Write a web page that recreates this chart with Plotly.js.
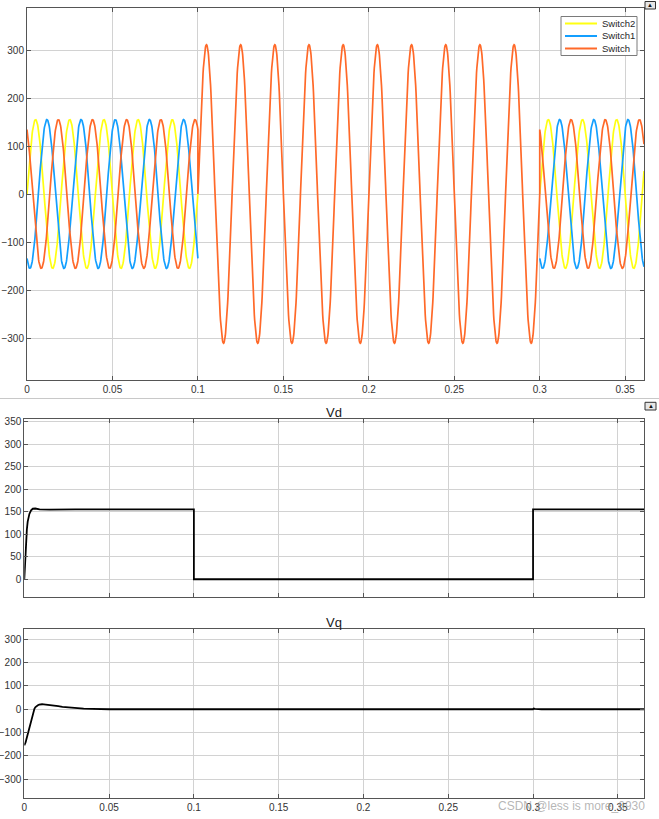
<!DOCTYPE html>
<html>
<head>
<meta charset="utf-8">
<script src="https://cdn.plot.ly/plotly-3.0.1.min.js"></script>
<style>
html,body{margin:0;padding:0;background:#fff;}
#chart{width:659px;height:819px;}
</style>
</head>
<body>
<div id="chart"></div>
<script>
// ---------------- data ----------------
// Top scope: three 50 Hz signals; three-phase (155 V peak) outside the switch window,
// single 311 V peak signal on "Switch" inside it.
const seriesNames = ['Switch2', 'Switch1', 'Switch'];
const seriesPhaseDeg = [0, -120, 120];      // phase of each signal in the three-phase windows
const threePhaseAmp = 155;                   // peak value
const singlePhaseAmp = 311;                  // peak value in 0.1 .. 0.3 s
const lineFreqHz = 50;                       // 10 periods per 0.2 s
const switchWindow = [0.1, 0.3];             // s
const simEnd = 0.361;                        // s, last sample

// Vd (d-axis) read points
const vdTime  = [0, 0.0005, 0.001, 0.0015, 0.002, 0.003, 0.004, 0.005, 0.0065, 0.009, 0.015, 0.03, 0.1, 0.1, 0.3, 0.3, 0.3656];
const vdValue = [0, 45, 85, 110, 128, 145, 153, 156.5, 157, 155, 154.5, 155, 155, 0, 0, 155, 155];

// Vq (q-axis) read points
const vqTime  = [0, 0.0004, 0.0008, 0.0012, 0.0016, 0.002, 0.0024, 0.0028, 0.0032, 0.0036, 0.004, 0.0044, 0.0048, 0.0052, 0.0056, 0.006, 0.0066, 0.0073, 0.008, 0.0088, 0.0095, 0.0105, 0.0115, 0.0125, 0.014, 0.016, 0.018, 0.02, 0.0225, 0.025, 0.0275, 0.03, 0.0325, 0.035, 0.04, 0.045, 0.05, 0.3, 0.3004, 0.3012, 0.302, 0.305, 0.3656];
const vqValue = [-155, -150, -141, -130, -118, -106, -95, -82, -70, -57, -45, -33, -22, -12, -4, 3, 9, 14, 17, 19.5, 21, 21.5, 21.3, 20.7, 19.5, 17.5, 15.2, 13, 10.5, 8.3, 6.3, 4.7, 3.4, 2.4, 1.2, 0.5, 0, 0, 3, 2, 1, 0, 0];

// axis ticks
const xTickVals = [0, 0.05, 0.1, 0.15, 0.2, 0.25, 0.3, 0.35];
const xTickText = ['0', '0.05', '0.1', '0.15', '0.2', '0.25', '0.3', '0.35'];
const topYTicks = [-300, -200, -100, 0, 100, 200, 300];
const vdYTicks = [0, 50, 100, 150, 200, 250, 300, 350];
const vqYTicks = [-300, -200, -100, 0, 100, 200, 300];
const panelTitles = ['Vd', 'Vq'];
const watermark = 'CSDN @less is more_0930';

// ---------------- build the scope traces ----------------
const W = 659, H = 819;
const dt = 0.0002;
const omega = 2 * Math.PI * lineFreqHz;

function buildSignal(k) {
  const t = [], v = [];
  const ph = seriesPhaseDeg[k] * Math.PI / 180;
  const n1 = Math.round(switchWindow[0] / dt);
  for (let i = 0; i <= n1; i++) { const tt = i * dt; t.push(tt); v.push(threePhaseAmp * Math.sin(omega * tt + ph)); }
  const n2 = Math.round(switchWindow[1] / dt);
  if (k === 2) {
    for (let i = n1; i <= n2; i++) { const tt = i * dt; t.push(tt); v.push(singlePhaseAmp * Math.sin(omega * tt)); }
  } else {
    t.push((switchWindow[0] + switchWindow[1]) / 2); v.push(null);
  }
  const n3 = Math.round(simEnd / dt);
  for (let i = n2; i <= n3; i++) { const tt = i * dt; t.push(tt); v.push(threePhaseAmp * Math.sin(omega * tt + ph)); }
  return {t, v};
}

const scopeColors = ['#FFFF11', '#139FFF', '#FF6929'];
const traces = [];
for (let k = 0; k < 3; k++) {
  const s = buildSignal(k);
  traces.push({
    x: s.t, y: s.v, type: 'scatter', mode: 'lines', name: seriesNames[k],
    xaxis: 'x', yaxis: 'y', connectgaps: false, showlegend: false,
    line: {color: scopeColors[k], width: 1.7}, hoverinfo: 'skip'
  });
}
traces.push({x: vdTime, y: vdValue, type: 'scatter', mode: 'lines', name: 'Vd', showlegend: false,
  xaxis: 'x2', yaxis: 'y2', line: {color: '#000000', width: 1.8}});
traces.push({x: vqTime, y: vqValue, type: 'scatter', mode: 'lines', name: 'Vq', showlegend: false,
  xaxis: 'x3', yaxis: 'y3', line: {color: '#000000', width: 1.8}});

// ---------------- layout ----------------
const px = x => x / W;
const py = y => (H - y) / H;
const fam = 'Liberation Sans, Arial, Helvetica, sans-serif';
const tickFont = {family: fam, size: 10, color: '#333333'};

function axisBase(extra) {
  return Object.assign({
    showline: true, linecolor: '#555555', linewidth: 1, mirror: 'ticks',
    ticks: 'inside', ticklen: 4, tickcolor: '#555555', tickwidth: 1,
    showgrid: true, gridcolor: '#d2d2d2', gridwidth: 1, zeroline: false,
    fixedrange: true
  }, extra);
}

// hand-made scope legend (box, line samples, labels)
const legendRows = [23.5, 36, 48.5];
const legendShapes = [
  {type: 'rect', xref: 'paper', yref: 'paper', x0: px(561), x1: px(637), y0: py(55.5), y1: py(16.5),
    line: {color: '#7a7a7a', width: 1}, fillcolor: '#ffffff', layer: 'above'}
];
const legendAnn = [];
for (let k = 0; k < 3; k++) {
  legendShapes.push({type: 'line', xref: 'paper', yref: 'paper', x0: px(565), x1: px(597),
    y0: py(legendRows[k]), y1: py(legendRows[k]), line: {color: scopeColors[k], width: 2}, layer: 'above'});
  legendAnn.push({text: seriesNames[k], xref: 'paper', yref: 'paper', x: px(600), y: py(legendRows[k]),
    xanchor: 'left', yanchor: 'middle', showarrow: false, font: {family: fam, size: 9.5, color: '#262626'}});
}

const layout = {
  width: W, height: H,
  margin: {l: 0, r: 0, t: 0, b: 0},
  paper_bgcolor: '#ffffff', plot_bgcolor: '#ffffff',
  showlegend: false,
  xaxis: axisBase({domain: [px(27), px(644)], range: [0, simEnd], anchor: 'y',
    tickvals: xTickVals, ticktext: xTickText, tickfont: tickFont}),
  yaxis: axisBase({domain: [py(380), py(8)], range: [-387.5, 387.5], anchor: 'x',
    tickvals: topYTicks, tickfont: tickFont}),
  xaxis2: axisBase({domain: [px(24.3), px(644.3)], range: [0, 0.3656], anchor: 'y2',
    tickvals: xTickVals, showticklabels: false}),
  yaxis2: axisBase({domain: [py(596.7), py(419.3)], range: [-38.7, 355], anchor: 'x2',
    tickvals: vdYTicks, tickfont: tickFont}),
  xaxis3: axisBase({domain: [px(24.3), px(644.3)], range: [0, 0.3656], anchor: 'y3',
    tickvals: xTickVals, ticktext: xTickText, tickfont: tickFont}),
  yaxis3: axisBase({domain: [py(798.3), py(629.3)], range: [-382, 343], anchor: 'x3',
    tickvals: vqYTicks, tickfont: tickFont}),
  shapes: [
    {type: 'line', xref: 'paper', yref: 'paper', x0: 0, x1: 1, y0: py(398.5), y1: py(398.5),
      line: {color: '#c8c8c8', width: 1}},
    {type: 'rect', xref: 'paper', yref: 'paper', x0: px(645), x1: px(655.5), y0: py(9), y1: py(1.5),
      line: {color: '#333', width: 1}, fillcolor: '#e6e6e6'},
    {type: 'rect', xref: 'paper', yref: 'paper', x0: px(645), x1: px(656), y0: py(410), y1: py(402.3),
      line: {color: '#333', width: 1}, fillcolor: '#e6e6e6'}
  ].concat(legendShapes),
  annotations: [
    {text: panelTitles[0], xref: 'paper', yref: 'paper', x: px(334.3), y: py(412), xanchor: 'center', yanchor: 'middle',
      showarrow: false, font: {family: fam, size: 13, color: '#1a1a1a'}},
    {text: panelTitles[1], xref: 'paper', yref: 'paper', x: px(334.3), y: py(622), xanchor: 'center', yanchor: 'middle',
      showarrow: false, font: {family: fam, size: 13, color: '#1a1a1a'}},
    {text: '▲', xref: 'paper', yref: 'paper', x: px(650.2), y: py(5.3), xanchor: 'center', yanchor: 'middle',
      showarrow: false, font: {size: 6, color: '#111'}},
    {text: '▲', xref: 'paper', yref: 'paper', x: px(650.5), y: py(406.2), xanchor: 'center', yanchor: 'middle',
      showarrow: false, font: {size: 6, color: '#111'}},
    {text: watermark, xref: 'paper', yref: 'paper', x: px(647), y: py(806), xanchor: 'right', yanchor: 'middle',
      showarrow: false, font: {family: fam, size: 12, color: 'rgba(150,150,150,0.7)'}}
  ].concat(legendAnn)
};

Plotly.newPlot('chart', traces, layout, {staticPlot: true, displayModeBar: false});
</script>
</body>
</html>
